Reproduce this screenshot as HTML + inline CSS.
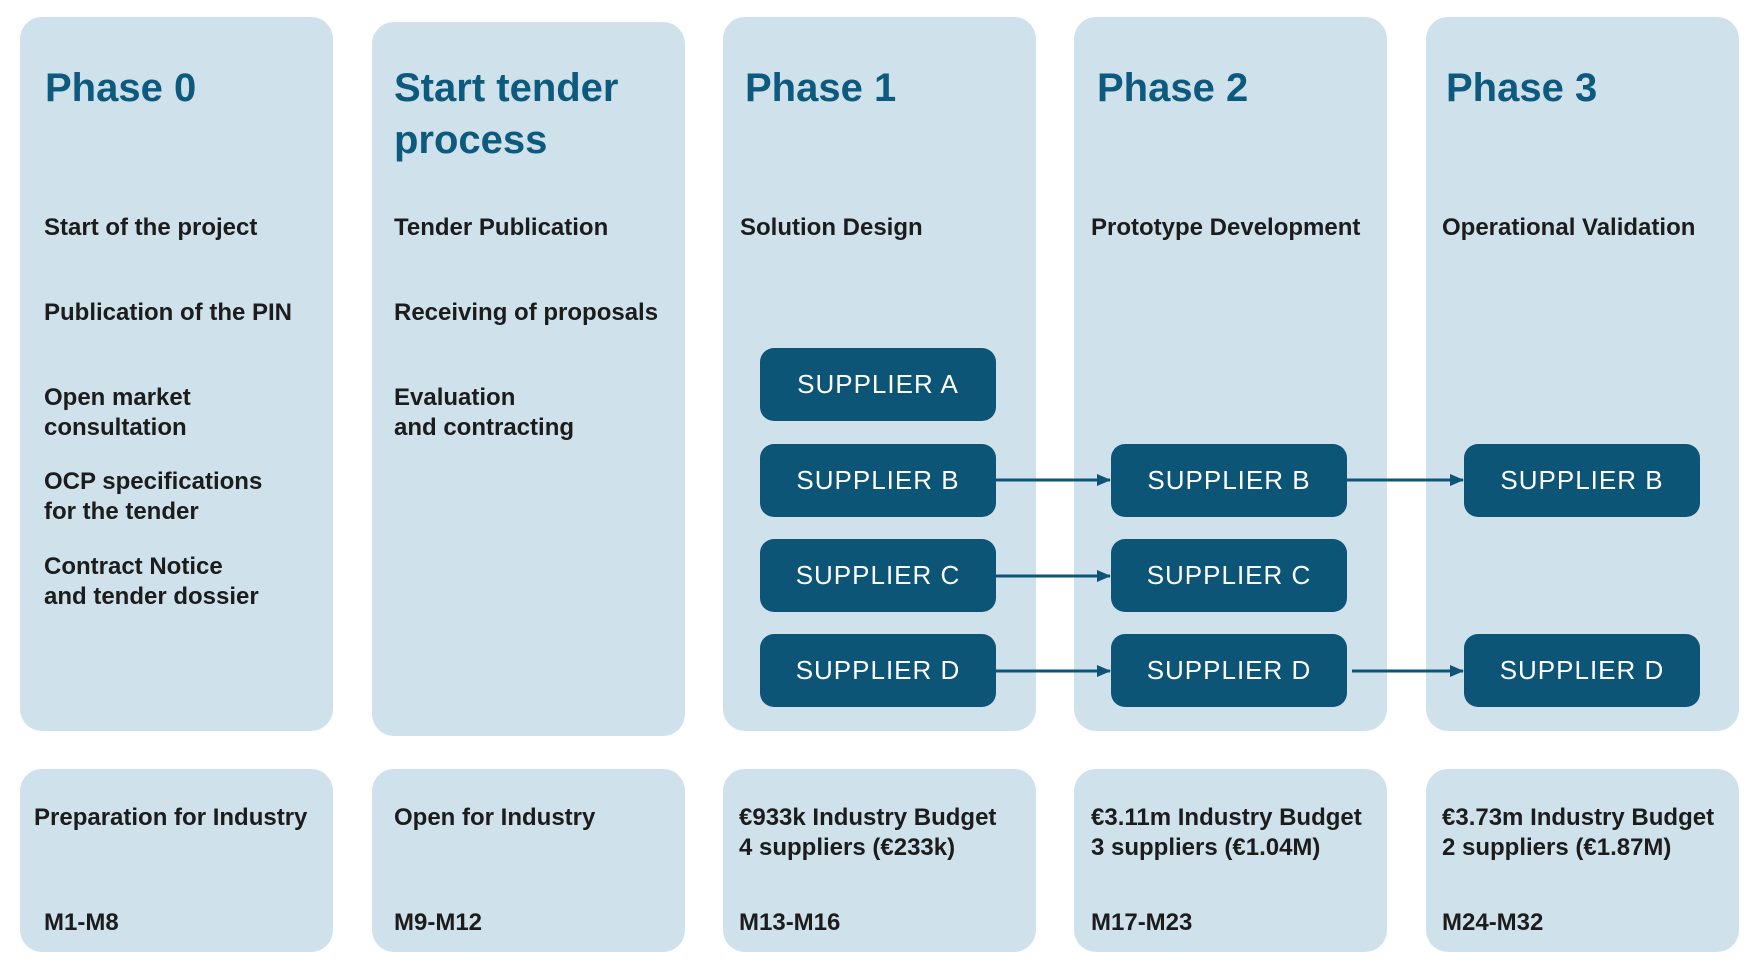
<!DOCTYPE html>
<html><head><meta charset="utf-8"><style>
body{margin:0;width:1755px;height:970px;background:#fff;position:relative;overflow:hidden;font-family:"Liberation Sans",Arial,sans-serif}
.b{position:absolute;background:#cfe2ec;border-radius:22px}
.t{position:absolute;color:#0e5a7e;font-size:40px;line-height:52px;white-space:nowrap;font-weight:bold}
.x{position:absolute;color:#1c1c1c;font-size:24px;line-height:30px;white-space:nowrap;transform:translateY(-50%);font-weight:bold}
.s{position:absolute;background:#0d5577;color:#fff;border-radius:14px;width:236px;height:73px;font-size:26px;line-height:73px;text-align:center;letter-spacing:1px}
</style></head><body>
<div class="b" style="left:20px;top:17px;width:313px;height:714px"></div>
<div class="b" style="left:372px;top:22px;width:313px;height:714px"></div>
<div class="b" style="left:723px;top:17px;width:313px;height:714px"></div>
<div class="b" style="left:1074px;top:17px;width:313px;height:714px"></div>
<div class="b" style="left:1426px;top:17px;width:313px;height:714px"></div>

<div class="b" style="left:20px;top:769px;width:313px;height:183px"></div>
<div class="b" style="left:372px;top:769px;width:313px;height:183px"></div>
<div class="b" style="left:723px;top:769px;width:313px;height:183px"></div>
<div class="b" style="left:1074px;top:769px;width:313px;height:183px"></div>
<div class="b" style="left:1426px;top:769px;width:313px;height:183px"></div>

<div class="t" style="left:45px;top:62px">Phase 0</div>
<div class="t" style="left:394px;top:62px">Start tender<br>process</div>
<div class="t" style="left:745px;top:62px">Phase 1</div>
<div class="t" style="left:1097px;top:62px">Phase 2</div>
<div class="t" style="left:1446px;top:62px">Phase 3</div>

<div class="x" style="left:44px;top:228px">Start of the project</div>
<div class="x" style="left:44px;top:313px">Publication of the PIN</div>
<div class="x" style="left:44px;top:413px">Open market<br>consultation</div>
<div class="x" style="left:44px;top:497px">OCP specifications<br>for the tender</div>
<div class="x" style="left:44px;top:582px">Contract Notice<br>and tender dossier</div>

<div class="x" style="left:394px;top:228px">Tender Publication</div>
<div class="x" style="left:394px;top:313px">Receiving of proposals</div>
<div class="x" style="left:394px;top:413px">Evaluation<br>and contracting</div>

<div class="x" style="left:740px;top:228px">Solution Design</div>
<div class="x" style="left:1091px;top:228px">Prototype Development</div>
<div class="x" style="left:1442px;top:228px">Operational Validation</div>

<div class="s" style="left:760px;top:348px">SUPPLIER A</div>
<div class="s" style="left:760px;top:444px">SUPPLIER B</div>
<div class="s" style="left:760px;top:539px">SUPPLIER C</div>
<div class="s" style="left:760px;top:634px">SUPPLIER D</div>
<div class="s" style="left:1111px;top:444px">SUPPLIER B</div>
<div class="s" style="left:1111px;top:539px">SUPPLIER C</div>
<div class="s" style="left:1111px;top:634px">SUPPLIER D</div>
<div class="s" style="left:1464px;top:444px">SUPPLIER B</div>
<div class="s" style="left:1464px;top:634px">SUPPLIER D</div>

<svg style="position:absolute;left:0;top:0" width="1755" height="970">
<defs><marker id="a" markerWidth="14" markerHeight="14" refX="13" refY="7" orient="auto" markerUnits="userSpaceOnUse"><path d="M0,1 L14,7 L0,13 Z" fill="#0d5577"/></marker></defs>
<g stroke="#0d5577" stroke-width="3" marker-end="url(#a)">
<line x1="996" y1="480" x2="1110" y2="480"/>
<line x1="996" y1="576" x2="1110" y2="576"/>
<line x1="996" y1="671" x2="1110" y2="671"/>
<line x1="1347" y1="480" x2="1463" y2="480"/>
<line x1="1352" y1="671" x2="1463" y2="671"/>
</g></svg>

<div class="x" style="left:34px;top:818px">Preparation for Industry</div>
<div class="x" style="left:44px;top:923px">M1-M8</div>
<div class="x" style="left:394px;top:818px">Open for Industry</div>
<div class="x" style="left:394px;top:923px">M9-M12</div>
<div class="x" style="left:739px;top:833px">€933k Industry Budget<br>4 suppliers (€233k)</div>
<div class="x" style="left:739px;top:923px">M13-M16</div>
<div class="x" style="left:1091px;top:833px">€3.11m Industry Budget<br>3 suppliers (€1.04M)</div>
<div class="x" style="left:1091px;top:923px">M17-M23</div>
<div class="x" style="left:1442px;top:833px">€3.73m Industry Budget<br>2 suppliers (€1.87M)</div>
<div class="x" style="left:1442px;top:923px">M24-M32</div>
</body></html>
